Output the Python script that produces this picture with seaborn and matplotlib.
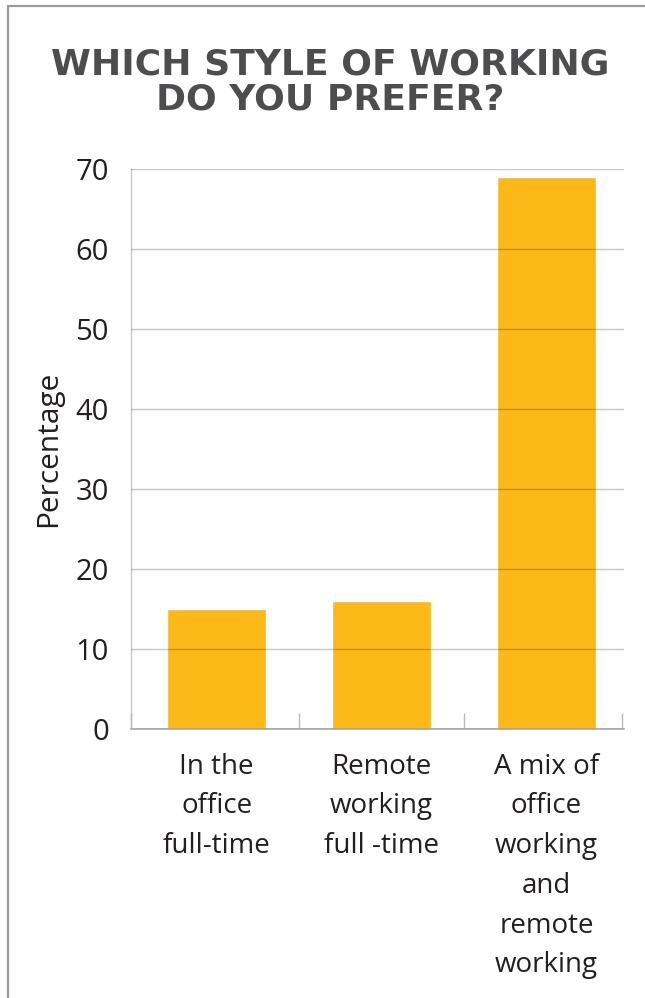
import matplotlib
matplotlib.use("Agg")
import matplotlib.pyplot as plt
from matplotlib.lines import Line2D
import seaborn as sns

# Survey answers and the share of respondents choosing each
categories = [
    "In the\noffice\nfull-time",
    "Remote\nworking\nfull -time",
    "A mix of\noffice\nworking\nand\nremote\nworking",
]
percentages = [15, 16, 69]
y_ticks = [0, 10, 20, 30, 40, 50, 60, 70]

title = "WHICH STYLE OF WORKING\nDO YOU PREFER?"
y_label = "Percentage"

bar_color = "#FBB917"
text_color = "#231F20"
title_color = "#4D4D4F"

sns.set_theme(style="white")
plt.rcParams["font.family"] = ["Open Sans", "DejaVu Sans"]

fig = plt.figure(figsize=(6.45, 9.98), dpi=100)
ax = fig.add_axes([0.2031, 0.2695, 0.7643, 0.5611])

sns.barplot(x=categories, y=percentages, color=bar_color, width=0.6,
            saturation=1, ax=ax)

ax.set_ylim(0, 70)
ax.set_xlim(-0.52, 2.47)
ax.set_yticks(y_ticks)
ax.set_yticklabels([str(t) for t in y_ticks], fontsize=21, color=text_color)
ax.tick_params(axis="y", length=0, pad=16)
ax.tick_params(axis="x", length=0, pad=17, labelsize=20, labelcolor=text_color)
for lab in ax.get_xticklabels():
    lab.set_linespacing(1.56)
    lab.set_verticalalignment("top")

# category separators rising from the baseline
ax.set_xticks([-0.52, 0.5, 1.5, 2.46], minor=True)
ax.tick_params(axis="x", which="minor", bottom=True, direction="in",
               length=11.5, width=1, color="#BBBBBB")

# gridlines sit on top of the bars
ax.set_axisbelow(False)
ax.yaxis.grid(True, color="black", alpha=0.22, linewidth=1)
ax.xaxis.grid(False)

for side in ["top", "right"]:
    ax.spines[side].set_visible(False)
ax.spines["left"].set_color("#C8C8C8")
ax.spines["left"].set_linewidth(1)
ax.spines["bottom"].set_color("#A8A8A8")
ax.spines["bottom"].set_linewidth(1.2)

ax.set_ylabel(y_label, fontsize=21.5, color=text_color, labelpad=9)
ax.set_xlabel("")

fig.text(0.512, 0.918, title, ha="center", va="center", fontsize=26,
         fontweight="bold", color=title_color, linespacing=1.05,
         family=["DejaVu Sans"])

# panel frame along the top and left edges
fig.add_artist(Line2D([8 / 645, 8 / 645], [0, 1 - 6 / 998],
                      transform=fig.transFigure, color="#9A9A9A", linewidth=1.6))
fig.add_artist(Line2D([8 / 645, 1], [1 - 6 / 998, 1 - 6 / 998],
                      transform=fig.transFigure, color="#9A9A9A", linewidth=1.6))

fig.savefig("out.png", dpi=100, facecolor="white")
